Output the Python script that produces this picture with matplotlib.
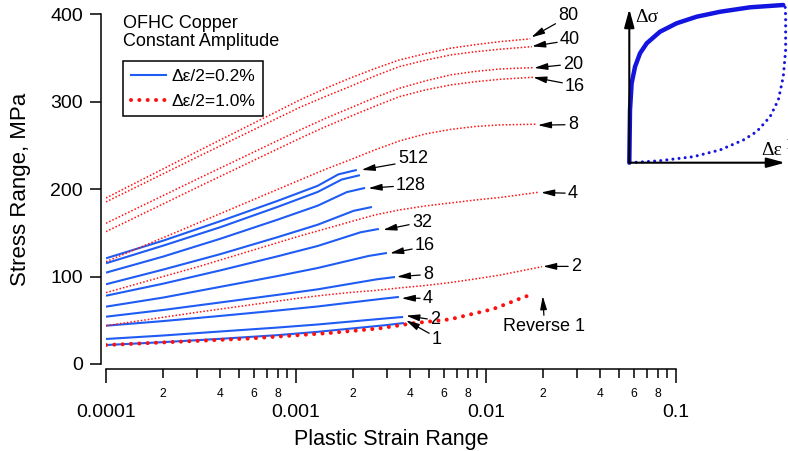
import math

import matplotlib
matplotlib.use("Agg")
import matplotlib.pyplot as plt
import matplotlib.ticker as mticker
from matplotlib.lines import Line2D
from matplotlib.transforms import offset_copy

# ── Data ──────────────────────────────────────────────────────────────────────
# Δε/2 = 0.2 % : stress range vs plastic strain range for selected cycles
blue_cycles = [1, 2, 4, 8, 16, 32, 64, 128, 256, 512]
blue_strain = [
    [1e-4, 2e-4, 4e-4, 8e-4, 1.3e-3, 2.96e-3, 3.70e-3],
    [1e-4, 2e-4, 4e-4, 8e-4, 1.3e-3, 2.92e-3, 3.66e-3],
    [1e-4, 2e-4, 4e-4, 8e-4, 1.3e-3, 2.79e-3, 3.48e-3],
    [1e-4, 2e-4, 4e-4, 8e-4, 1.3e-3, 2.65e-3, 3.32e-3],
    [1e-4, 2e-4, 4e-4, 8e-4, 1.3e-3, 2.41e-3, 3.01e-3],
    [1e-4, 2e-4, 4e-4, 8e-4, 1.3e-3, 2.19e-3, 2.73e-3],
    [1e-4, 2e-4, 4e-4, 8e-4, 1.3e-3, 2.01e-3, 2.51e-3],
    [1e-4, 2e-4, 4e-4, 8e-4, 1.3e-3, 1.85e-3, 2.31e-3],
    [1e-4, 2e-4, 4e-4, 8e-4, 1.3e-3, 1.74e-3, 2.17e-3],
    [1e-4, 2e-4, 4e-4, 8e-4, 1.3e-3, 1.67e-3, 2.09e-3],
]
blue_stress = [
    [21.7, 25.0, 28.8, 33.0, 36.8, 44.4, 46.9],
    [28.6, 32.6, 37.2, 41.7, 45.2, 52.0, 53.8],
    [43.8, 49.1, 55.0, 61.2, 65.8, 74.4, 76.7],
    [54.1, 61.8, 70.4, 79.1, 85.4, 96.8, 99.5],
    [65.6, 76.0, 88.3, 100.6, 109.8, 123.6, 127.0],
    [78.1, 91.9, 107.1, 123.2, 135.0, 150.7, 154.5],
    [91.2, 108.0, 125.7, 145.1, 159.3, 175.2, 179.6],
    [104.5, 122.9, 143.3, 165.1, 181.1, 196.6, 201.4],
    [115.2, 135.4, 156.5, 179.7, 196.8, 211.0, 216.0],
    [120.9, 141.1, 163.4, 186.6, 203.8, 216.9, 222.0],
]

# Δε/2 = 1.0 %
red_cycles = [2, 4, 8, 16, 20, 40, 80]
red_strain_grid = [1e-4, 3.1e-4, 1.05e-3, 1.42e-3, 1.92e-3, 2.6e-3, 3.5e-3,
                   4.8e-3, 6.5e-3, 8.8e-3, 0.0119]
red_strain_end = [0.0197, 0.0190, 0.0185, 0.0177, 0.0177, 0.01745, 0.0171]
red_stress = [
    [43.8, 59.5, 75.5, 78.9, 81.8, 84.1, 87.0, 89.8, 93.2, 97.3, 101.8, 111.3],
    [81.6, 111.7, 146.5, 154.5, 162.5, 170.5, 176.2, 180.8, 184.2, 187.6, 190.5, 196.5],
    [117.0, 161.9, 210.5, 222.5, 233.4, 244.9, 255.1, 263.2, 268.3, 271.7, 273.5, 274.3],
    [151.4, 203.2, 258.2, 271.2, 283.0, 294.8, 305.8, 313.5, 319.2, 322.9, 325.7, 328.0],
    [161.0, 212.7, 267.7, 280.7, 292.6, 304.7, 315.4, 323.8, 330.7, 334.7, 337.5, 339.0],
    [185.4, 237.9, 293.7, 305.8, 317.3, 329.5, 340.2, 347.5, 353.5, 357.2, 360.1, 363.0],
    [189.9, 244.3, 302.1, 315.0, 326.9, 337.9, 347.8, 355.0, 361.2, 365.3, 368.8, 371.9],
]

# first reversal at Δε/2 = 1.0 %
rev_strain = [1e-4, 5.73e-4, 1.51e-3, 2.77e-3, 4.13e-3, 6.47e-3, 8.76e-3,
              0.0109, 0.0131, 0.0160, 0.0179]
rev_stress = [21.7, 29.2, 35.5, 40.8, 46.6, 51.1, 58.0, 62.9, 69.5, 77.0, 79.7]

# schematic inset (normalised units)
sketch_solid_x = [0.0, 0.0045, 0.015, 0.037, 0.069, 0.112, 0.197, 0.304, 0.433, 0.583, 0.775, 0.989]
sketch_solid_y = [0.0, 0.343, 0.517, 0.625, 0.712, 0.777, 0.852, 0.907, 0.950, 0.982, 1.011, 1.026]
sketch_dot_x = [0.005, 0.197, 0.411, 0.583, 0.733, 0.818, 0.904, 0.957, 0.989, 1.004, 1.004, 1.0]
sketch_dot_y = [0.0, 0.013, 0.039, 0.083, 0.148, 0.202, 0.299, 0.408, 0.560, 0.733, 0.950, 1.04]

# ── Label placement (pixels): arrow-tip nudge, text offset from tip, arrow relpos
blue_notes = {
    1:   ((2, 2.7), (26, -18.8), (0, 0.75)),
    2:   ((3, 1.3), (24, -3.7), (0, 0.5)),
    4:   ((2.7, -1.3), (21.3, 0), (0, 0.5)),
    8:   ((1.7, 0.3), (26.3, 2.7), (0, 0.45)),
    16:  ((3, -0.3), (25, 7.3), (0, 0.35)),
    32:  ((4.3, -1), (28.7, 7.5), (0, 0.4)),
    128: ((3.3, -0.3), (27.7, 2.8), (0, 0.45)),
    512: ((4.7, 0), (36.3, 11.5), (0, 0.2)),
}
red_notes = {
    2:  ((1, 0.3), (28, 0), (0, 0.5)),
    4:  ((2, -0.3), (27, -0.7), (0, 0.5)),
    8:  ((1, -1), (30, 0.5), (0, 0.5)),
    16: ((0, 0), (32, -9.5), (0, 0.7)),
    20: ((1, -0.3), (29, 3), (0, 0.5)),
    40: ((0, 0.3), (28, 7), (0, 0.35)),
    80: ((1, 1.5), (27, 22), (0, 0.1)),
}

# ── Style ─────────────────────────────────────────────────────────────────────
BLUE = "#1f5cf5"
RED = "#ff1010"
INK = "#1414e0"
W, H = 788, 451

plt.rcParams.update({
    "font.family": ["Liberation Sans", "DejaVu Sans"],
    "axes.linewidth": 1.1,
})

fig = plt.figure(figsize=(W / 100, H / 100), dpi=100)
ax = fig.add_axes([106 / W, 1 - 364 / H, 570 / W, 349.7 / H])

for xs, ys in zip(blue_strain, blue_stress):
    ax.plot(xs, ys, color=BLUE, lw=1.5, solid_capstyle="butt")

for ys, xend in zip(red_stress, red_strain_end):
    ax.plot(red_strain_grid + [xend], ys, color=RED, lw=1.1,
            linestyle=(0, (1, 1.3)))

rev_style = dict(color=RED, lw=2.9, linestyle=(0, (0.01, 2.06)),
                 dash_capstyle="round")
ax.plot(rev_strain, rev_stress, **rev_style)

ax.set_xscale("log")
ax.set_xlim(1e-4, 0.1)
ax.set_ylim(0, 400)
ax.set_yticks([0, 100, 200, 300, 400])
ax.xaxis.set_major_locator(mticker.LogLocator(base=10, numticks=10))
ax.xaxis.set_minor_locator(mticker.LogLocator(base=10, subs=range(2, 10), numticks=10))
ax.xaxis.set_major_formatter(mticker.FuncFormatter(lambda v, p: f"{v:g}"))


def minor_label(v, pos):
    m = int(round(v / 10 ** math.floor(math.log10(v) + 1e-9)))
    return str(m) if m in (2, 4, 6, 8) else ""


ax.xaxis.set_minor_formatter(mticker.FuncFormatter(minor_label))

for side in ("top", "right"):
    ax.spines[side].set_visible(False)
ax.spines["left"].set_position(("outward", 3.6))
ax.spines["bottom"].set_position(("outward", 3.6))
ax.tick_params(axis="x", which="major", length=10, width=1.1, pad=15, labelsize=14)
ax.tick_params(axis="x", which="minor", length=6.5, width=1.1, pad=7, labelsize=8.7)
ax.tick_params(axis="y", which="major", length=8, width=1.1, pad=5, labelsize=14)
ax.tick_params(axis="y", which="minor", left=False)
ax.set_xlabel("Plastic Strain Range", fontsize=15.5, labelpad=6)
ax.set_ylabel("Stress Range, MPa", fontsize=16, labelpad=14)

# ── Cycle labels with arrows ─────────────────────────────────────────────────
arrow = dict(arrowstyle="-|>,head_length=0.8,head_width=0.2", lw=0.9,
             color="black", shrinkA=0, shrinkB=0, mutation_scale=10)


def note(text, x_end, y_end, nudge, offset, relpos, ha="left", va="center"):
    tip = offset_copy(ax.transData, fig=fig, x=nudge[0], y=nudge[1], units="dots")
    ax.annotate(text, xy=(x_end, y_end), xycoords=tip, xytext=offset,
                textcoords="offset pixels", ha=ha, va=va, fontsize=13,
                arrowprops=dict(arrow, relpos=relpos))


for cyc, xs, ys in zip(blue_cycles, blue_strain, blue_stress):
    if cyc in blue_notes:
        note(str(cyc), xs[-1], ys[-1], *blue_notes[cyc])

for cyc, ys, xend in zip(red_cycles, red_stress, red_strain_end):
    note(str(cyc), xend, ys[-1], *red_notes[cyc])

note("Reverse 1", rev_strain[-1], rev_stress[-1], (8.7, -1.7), (1.3, -22),
     (0.5, 1), ha="center", va="top")

# ── Legend and title ─────────────────────────────────────────────────────────
handles = [Line2D([], [], color=BLUE, lw=1.5),
           Line2D([], [], **rev_style)]
leg = ax.legend(handles, ["Δε/2=0.2%", "Δε/2=1.0%"], loc="upper left",
                bbox_to_anchor=((123 - 106) / 570, (364 - 61) / 349.7),
                frameon=True, fancybox=False, edgecolor="black", framealpha=1,
                fontsize=12.5, handlelength=2.0, borderaxespad=0, borderpad=0.45,
                labelspacing=0.55, handletextpad=0.35)
leg.get_frame().set_linewidth(1.1)

fig.text(123 / W, 1 - 15 / H, "OFHC Copper\nConstant Amplitude", ha="left",
         va="top", fontsize=13, linespacing=1.1)

# ── Schematic inset ──────────────────────────────────────────────────────────
ins = fig.add_axes([629.3 / W, 1 - 162.7 / H, 155.7 / W, 153.7 / H])
ins.set_xlim(0, 1)
ins.set_ylim(0, 1)
ins.axis("off")
ins.plot(sketch_solid_x, sketch_solid_y, color=INK, lw=3.2, clip_on=False,
         solid_capstyle="round")
ins.plot(sketch_dot_x, sketch_dot_y, color=INK, lw=2.2, clip_on=False,
         linestyle=(0, (0.01, 2.0)), dash_capstyle="round")
axis_arrow = dict(arrowstyle="-|>,head_length=1.1,head_width=0.3", lw=1.5,
                  color="black", shrinkA=0, shrinkB=0, mutation_scale=10)
ins.annotate("", xy=(1, 0), xytext=(0, 0), arrowprops=axis_arrow,
             annotation_clip=False)
ins.annotate("", xy=(0, 1), xytext=(0, 0), arrowprops=axis_arrow,
             annotation_clip=False)
fig.text(635 / W, 1 - 22 / H, "Δσ", family="Liberation Serif", fontsize=14,
         ha="left", va="baseline")
fig.text(761 / W, 1 - 155 / H, "Δε", family="Liberation Serif", fontsize=14,
         ha="left", va="baseline")
fig.text(787 / W, 1 - 146 / H, "p", family="Liberation Serif", fontsize=10,
         ha="left", va="baseline")

fig.savefig("out.png", dpi=100)
